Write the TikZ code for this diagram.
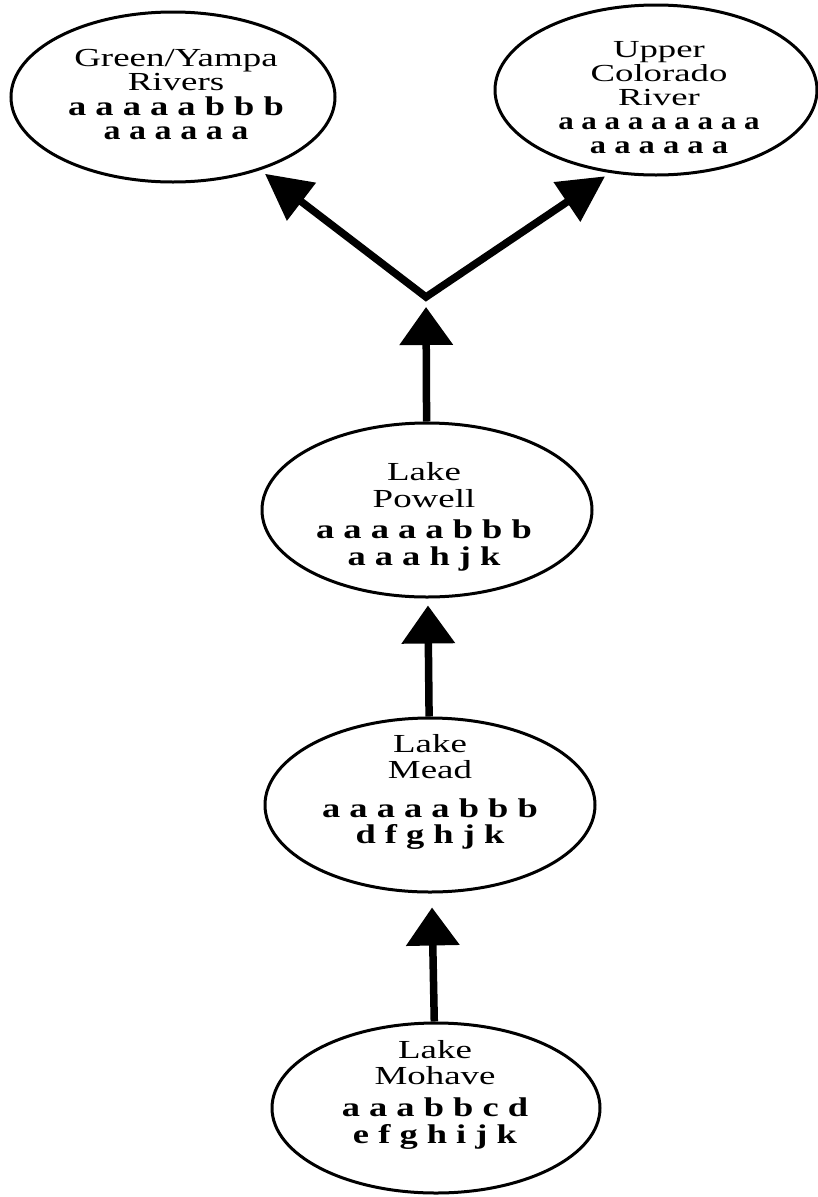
\documentclass[tikz,border=0pt]{standalone}
\usepackage{fontspec}
\setmainfont{Liberation Serif}
\newfontfamily\namefont[FakeStretch=1.42]{Liberation Serif}
\newfontfamily\namefontu[FakeStretch=1.5]{Liberation Serif}
\newfontfamily\codefont[FakeStretch=1.35]{Liberation Serif}
\newfontfamily\codefonta[FakeStretch=1.26]{Liberation Serif}
\newfontfamily\codefontu[FakeStretch=1.3]{Liberation Serif}
\newfontfamily\codefontn[FakeStretch=1.24]{Liberation Serif}
\newcommand\nm[1]{{\namefont\fontsize{26}{26}\selectfont #1}}
\newcommand\nmu[1]{{\namefontu\fontsize{24.5}{24.5}\selectfont #1}}
\newcommand\cdl[2]{{#1\bfseries\fontsize{27}{27}\selectfont #2}}
\newcommand\cdu[2]{{#1\bfseries\fontsize{25}{25}\selectfont #2}}
\usetikzlibrary{shapes.geometric,arrows.meta}
\begin{document}
\begin{tikzpicture}[x=1pt,y=-1pt,
  lake/.style={draw, ellipse, line width=3pt, inner sep=0pt},
  lbl/.style={anchor=north, align=center, inner sep=0pt, font=\fontsize{26}{#1}\selectfont},
  uparr/.style={line width=7.5pt, -{Triangle[length=38pt,width=52pt]}},
  diag/.style={line width=7.5pt, line join=miter,
    {Triangle[length=46pt,width=46pt]}-{Triangle[length=46pt,width=46pt]},
    shorten <=6pt, shorten >=6pt}]
\fill[white] (0,0) rectangle (817,1197);
\useasboundingbox (0,0) rectangle (817,1197);

% ellipses
\node[lake, minimum width=324pt, minimum height=170pt] (green) at (173,97) {};
\node[lake, minimum width=322pt, minimum height=170pt] (upper) at (656,90) {};
\node[lake, minimum width=330pt, minimum height=174pt] (powell) at (427,510) {};
\node[lake, minimum width=330pt, minimum height=174pt] (mead) at (430,805) {};
\node[lake, minimum width=328pt, minimum height=170pt] (mohave) at (436,1108) {};

% texts
\node[lbl=24.5] (greentext) at (176,49)
  {\nm{Green/Yampa}\\\nm{Rivers}\\\cdl\codefont{a a a a a b b b}\\\cdl\codefonta{a a a a a a}};
\node[lbl=24] (uppertext) at (659,41)
  {\nmu{Upper}\\\nmu{Colorado}\\\nmu{River}\\\cdu\codefontn{a a a a a a a a a}\\\cdu\codefontu{a a a a a a}};
\node[lbl=27] (powelltext) at (424,462)
  {\nm{Lake}\\\nm{Powell}\\[4pt]\cdl\codefont{a a a a a b b b}\\\cdl\codefont{a a a h j k}};
\node[lbl=26] (meadtext) at (430,734)
  {\nm{Lake}\\\nm{Mead}\\[13pt]\cdl\codefont{a a a a a b b b}\\\cdl\codefont{d f g h j k}};
\node[lbl=26.5] (mohavetext) at (435,1040)
  {\nm{Lake}\\\nm{Mohave}\\[5.5pt]\cdl\codefont{a a a b b c d}\\\cdl\codefont{e f g h i j k}};

% connectors
\coordinate (junction) at (426,297);
\draw[uparr, shorten >=10pt] (powell) -- (junction);
\draw[uparr, shorten >=7pt] (mead) -- (powell);
\draw[uparr, shorten >=14pt] (mohave) -- (mead);
\draw[diag] (green.-40) -- (junction) -- (upper.241);
\end{tikzpicture}
\end{document}
